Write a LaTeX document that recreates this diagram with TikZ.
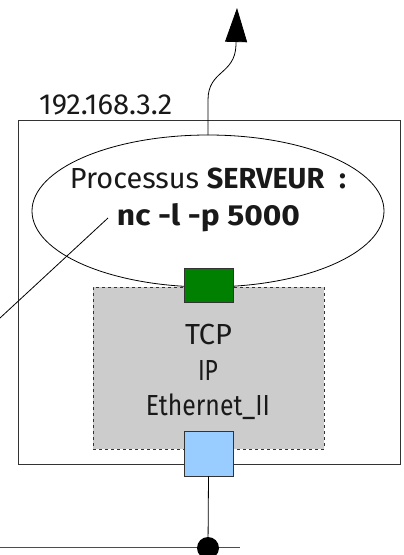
\documentclass[tikz,border=0pt]{standalone}
\usepackage{fontspec}
\usepackage{graphicx}
\setmainfont{Fira Sans}
\usetikzlibrary{arrows.meta}
\definecolor{portgreen}{RGB}{0,128,0}
\definecolor{portblue}{RGB}{153,204,255}
\definecolor{stackgray}{RGB}{204,204,204}
\newcommand\fitwidth[2]{\resizebox{#1}{\height}{#2}}
\begin{document}
\begin{tikzpicture}[x=1pt,y=-1pt,
  txt/.style={font=\fontsize{29}{33}\selectfont, inner sep=0pt, text=black!90, anchor=base},
  port/.style={draw=black!80, line width=0.8pt, minimum width=49pt, minimum height=34pt, inner sep=0pt},
  thin/.style={line width=0.8pt}]
\useasboundingbox (0,0) rectangle (404,555);
% host box
\node[draw=black!80, line width=1pt, minimum width=382pt, minimum height=344pt, inner sep=0pt] (host) at (209,292) {};
\node[txt, anchor=base west] (ip) at (39,114) {\fitwidth{133pt}{192.168.3.2}};
% stack box
\node[draw=black!80, dashed, fill=stackgray, line width=0.7pt, minimum width=231pt, minimum height=162pt, inner sep=0pt] (stack) at (208.5,368) {};
\node[txt] (tcp) at (208.5,344) {\fitwidth{47pt}{TCP}};
\node[txt] (ipl) at (208,380) {\fitwidth{20pt}{IP}};
\node[txt] (eth) at (208,415) {\fitwidth{124pt}{Ethernet\_II}};
% process ellipse
\draw[thin] (208,211) ellipse [x radius=176, y radius=76];
\coordinate (ptop) at (208,135);
\node[txt] (proc) at (208,188) {\fitwidth{276pt}{Processus \textbf{SERVEUR\hspace{8pt} :}}};
\node[txt] (cmd) at (208.5,225) {\fitwidth{183pt}{\textbf{nc -l -p 5000}}};
% ports
\node[port, fill=portgreen] (sock) at (208.5,285) {};
\node[port, fill=portblue, minimum height=45pt] (nic) at (208.5,453.5) {};
% arrow out
\coordinate (tip) at (237,8);
\draw[thin, -{Triangle[length=34pt,width=22pt]}] (ptop) -- (208,100) .. controls (208,70) and (235,75) .. (236,45) -- (tip);
% network
\coordinate (netl) at (0,547);
\coordinate (netr) at (240,547);
\draw[line width=1pt, black!70] (netl) -- (netr);
\node[circle, fill=black, minimum size=22pt, inner sep=0pt] (dot) at (208,548) {};
\draw[thin] (nic.south) -- (dot.center);
% pointer line
\coordinate (pa) at (108,218);
\coordinate (pb) at (0,318);
\draw[thin] (pa) -- (pb);
\end{tikzpicture}
\end{document}
